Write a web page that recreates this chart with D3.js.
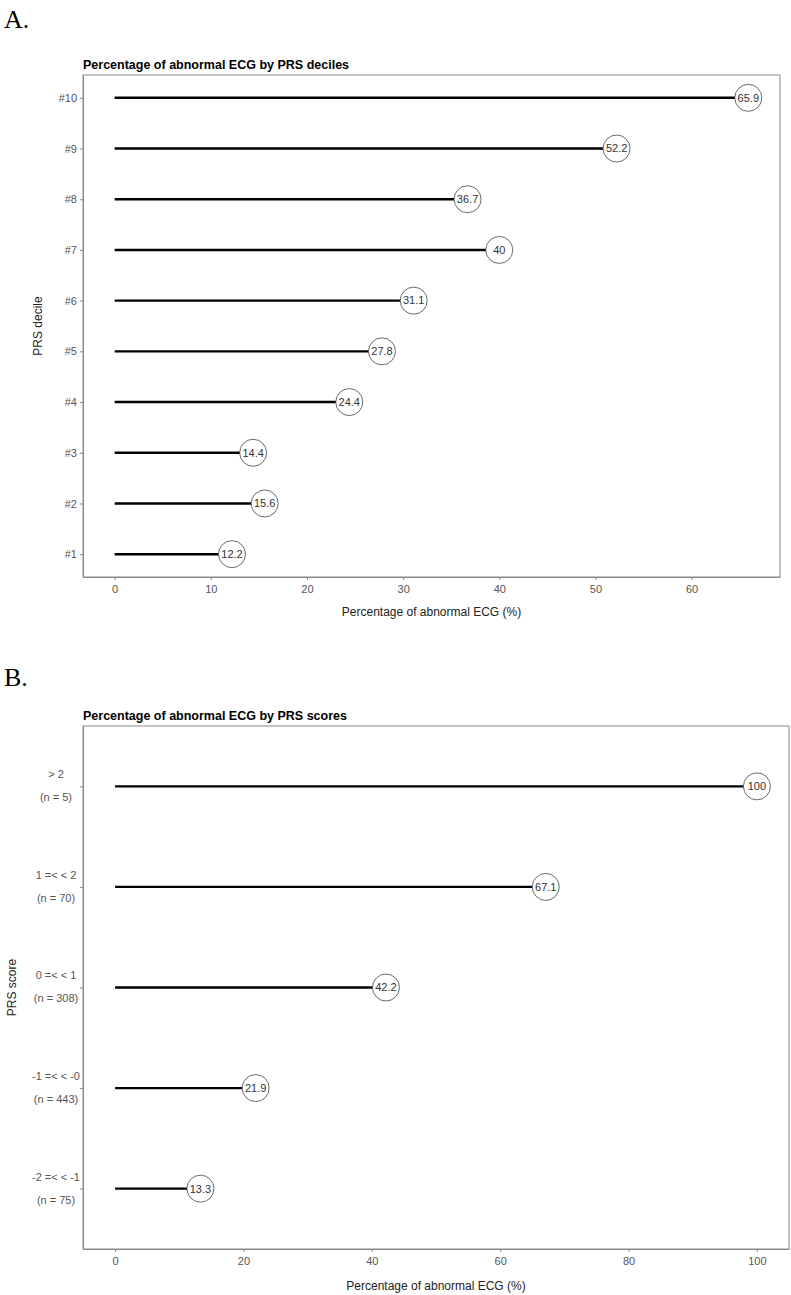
<!DOCTYPE html>
<html><head><meta charset="utf-8">
<script src="https://cdn.jsdelivr.net/npm/d3@7"></script>
<style>
body{margin:0;background:#fff;}
svg{display:block;font-family:"Liberation Sans",Arial,sans-serif;}
</style></head>
<body><svg id="c" width="791" height="1295"></svg>
<script>
const decileCats = ["#1","#2","#3","#4","#5","#6","#7","#8","#9","#10"];
const decileVals = [12.2,15.6,14.4,24.4,27.8,31.1,40,36.7,52.2,65.9];
const decileTicks = [0,10,20,30,40,50,60];

const scoreCats = ["-2 =< < -1","-1 =< < -0","0 =< < 1","1 =< < 2","> 2"];
const scoreN = ["(n = 75)","(n = 443)","(n = 308)","(n = 70)","(n = 5)"];
const scoreVals = [13.3,21.9,42.2,67.1,100];
const scoreTicks = [0,20,40,60,80,100];

const svg = d3.select("#c");

function panel(o){
  const {letter, letterY, title, left, right, top, bottom, cats, vals, ticks, pad, ylab, ylabX, xlabY, multi, nlabels} = o;
  svg.append("text").attr("x",4).attr("y",letterY).attr("font-family","'Liberation Serif','Times New Roman',serif")
    .attr("font-size",26).attr("fill","#000").text(letter);
  svg.append("text").attr("x",left).attr("y",top-6).attr("font-size",12.5).attr("font-weight","bold").attr("fill","#000").text(title);
  const mx = d3.max(vals);
  const x = d3.scaleLinear().domain([-0.05*mx, mx*1.05]).range([left,right]);
  const y = d3.scalePoint().domain(cats).range([bottom,top]).padding(pad);
  const g = svg.append("g");
  // border
  g.append("rect").attr("x",left).attr("y",top).attr("width",right-left).attr("height",bottom-top)
    .attr("fill","none").attr("stroke","#8a8a8a").attr("stroke-width",1);
  // x axis
  const xa = g.append("g").attr("transform",`translate(0,${bottom})`)
    .call(d3.axisBottom(x).tickValues(ticks).tickSize(3).tickSizeOuter(0).tickFormat(d3.format("d")));
  xa.select(".domain").attr("stroke","#8a8a8a");
  xa.selectAll(".tick line").attr("stroke","#8a8a8a");
  xa.selectAll(".tick text").attr("fill","#555").attr("font-size",11).attr("dy","0.9em")
    .attr("font-family","'Liberation Sans',Arial,sans-serif");
  // y axis
  const ya = g.append("g").attr("transform",`translate(${left},0)`)
    .call(d3.axisLeft(y).tickSize(3).tickSizeOuter(0).tickFormat(multi?()=>"":d=>d));
  ya.select(".domain").attr("stroke","#8a8a8a");
  ya.selectAll(".tick line").attr("stroke","#8a8a8a");
  ya.selectAll(".tick text").attr("fill","#555").attr("font-size",11)
    .attr("font-family","'Liberation Sans',Arial,sans-serif");
  if(multi){
    cats.forEach((c,i)=>{
      g.append("text").attr("x",56).attr("y",y(c)-12).attr("dy","0.35em").attr("text-anchor","middle")
        .attr("font-size",11).attr("fill","#555").text(c);
      g.append("text").attr("x",56).attr("y",y(c)+11).attr("dy","0.35em").attr("text-anchor","middle")
        .attr("font-size",11).attr("fill","#555").text(nlabels[i]);
    });
  }
  // lollipops
  const data = cats.map((c,i)=>({c, v: vals[i]}));
  g.selectAll("line.seg").data(data).join("line").attr("class","seg")
    .attr("x1",x(0)).attr("x2",d=>x(d.v)).attr("y1",d=>y(d.c)).attr("y2",d=>y(d.c))
    .attr("stroke","#000").attr("stroke-width",2.4);
  g.selectAll("circle.pt").data(data).join("circle").attr("class","pt")
    .attr("cx",d=>x(d.v)).attr("cy",d=>y(d.c)).attr("r",13.5)
    .attr("fill","#fff").attr("stroke","#444").attr("stroke-width",0.8);
  g.selectAll("text.lab").data(data).join("text").attr("class","lab")
    .attr("x",d=>x(d.v)).attr("y",d=>y(d.c)).attr("dy","0.35em").attr("text-anchor","middle")
    .attr("font-size",11).attr("fill","#333").text(d=>d.v);
  // axis titles
  svg.append("text").attr("x",(left+right)/2).attr("y",xlabY).attr("text-anchor","middle")
    .attr("font-size",12).attr("fill","#222").text("Percentage of abnormal ECG (%)");
  svg.append("text").attr("transform",`translate(${ylabX},${(top+bottom)/2}) rotate(-90)`)
    .attr("text-anchor","middle").attr("font-size",12).attr("fill","#222").text(ylab);
}

panel({letter:"A.", letterY:28, title:"Percentage of abnormal ECG by PRS deciles",
  left:83, right:780, top:75, bottom:577, cats:decileCats, vals:decileVals, ticks:decileTicks,
  pad:0.45, ylab:"PRS decile", ylabX:42, xlabY:616, multi:false});

panel({letter:"B.", letterY:686, title:"Percentage of abnormal ECG by PRS scores",
  left:83, right:789, top:726, bottom:1249, cats:scoreCats, vals:scoreVals, ticks:scoreTicks,
  pad:0.6, ylab:"PRS score", ylabX:16, xlabY:1290, multi:true, nlabels:scoreN});
</script></body></html>
